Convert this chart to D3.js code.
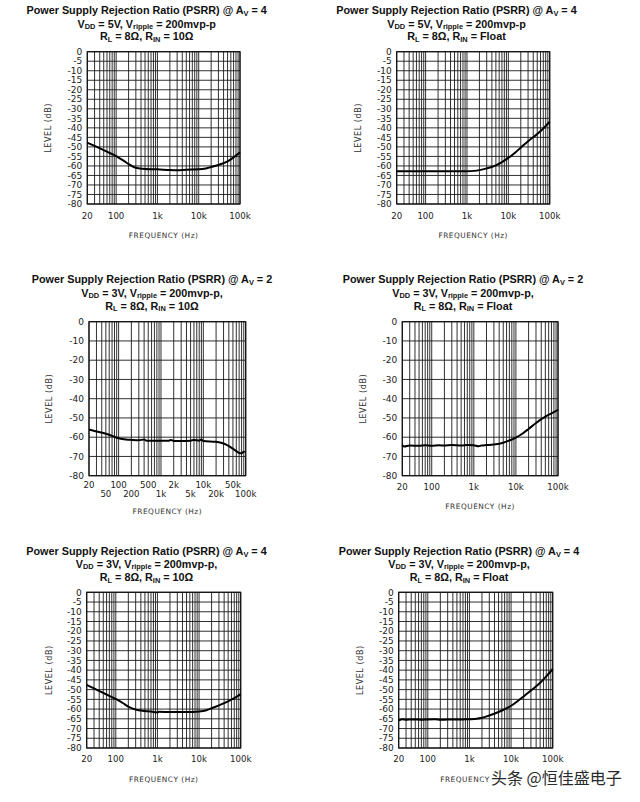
<!DOCTYPE html>
<html><head><meta charset="utf-8">
<script src="https://cdn.jsdelivr.net/npm/d3@7"></script>
<style>html,body{margin:0;padding:0;background:#fff;}svg{display:block;}</style>
</head><body>
<svg id="chart" width="640" height="802"></svg>
<script>
// ---------- DATA ----------
const p1Freq  = [20,30,50,70,100,150,200,300,500,1000,2000,3000,5000,10000,15000,20000,30000,50000,70000,100000];
const p1Level = [-47.8,-49.5,-51.7,-53.2,-54.8,-57.2,-59,-61,-61.6,-61.8,-62.2,-62.3,-62,-61.8,-61.3,-60.6,-59.5,-57.6,-55.5,-52.8];

const p2Freq  = [20,50,100,200,500,1000,1500,2000,3000,5000,7000,10000,15000,20000,30000,50000,70000,100000];
const p2Level = [-62.8,-62.8,-62.8,-62.8,-62.8,-62.8,-62.6,-62.2,-61.3,-59.7,-58,-55.8,-52.8,-50.4,-47,-43.2,-40.3,-36.8];

const p3Freq  = [20,30,50,70,100,150,200,300,400,450,500,700,1000,1500,1700,2000,3000,5000,6000,8000,9000,10000,20000,30000,40000,50000,60000,70000,80000,90000,95000];
const p3Level = [-56,-57,-58.2,-59.3,-60.5,-61.2,-61.4,-61.6,-61.2,-61.8,-61.8,-61.8,-61.9,-61.9,-61.4,-62,-62,-61.8,-61.4,-61.8,-61.2,-62,-62.4,-63.3,-64.6,-66,-67.2,-68.2,-68.3,-67.6,-67.7];

const p4Freq  = [20,22,30,50,70,100,150,200,300,500,700,1000,1300,1500,2000,3000,5000,7000,10000,15000,20000,30000,50000,70000,100000];
const p4Level = [-64.2,-64.8,-64.3,-64.5,-64.2,-64.4,-64.2,-64.3,-64.1,-64.3,-64,-64.2,-64.7,-64.3,-64.1,-63.8,-62.9,-61.7,-60.2,-57.8,-55.7,-52.6,-49.3,-47.6,-45.8];

const p5Freq  = [20,30,50,70,100,150,200,300,500,700,1000,1100,2000,5000,10000,15000,20000,30000,50000,70000,100000];
const p5Level = [-47.6,-49.4,-51.7,-53.2,-54.8,-57,-58.7,-60.3,-61,-61.3,-61.7,-61.4,-61.5,-61.5,-61.2,-60.6,-59.6,-58.1,-56,-54.4,-52.3];

const p6Freq  = [20,25,30,40,50,70,100,150,200,300,500,700,1000,1500,2000,3000,5000,7000,10000,15000,20000,30000,50000,70000,100000];
const p6Level = [-65.8,-65.2,-65.5,-65.3,-65.3,-65.5,-65.3,-65.2,-65.5,-65.4,-65.4,-65.3,-65.2,-65,-64.5,-63.3,-61.5,-60.1,-58.3,-55.6,-53.5,-50.5,-46.5,-43.2,-39.5];

const yTicks5  = [0,-5,-10,-15,-20,-25,-30,-35,-40,-45,-50,-55,-60,-65,-70,-75,-80];
const yTicks10 = [0,-10,-20,-30,-40,-50,-60,-70,-80];
const xTickVals   = [20,100,1000,10000,100000];
const xTickLabels = ["20","100","1k","10k","100k"];
const xTickValsRow1   = [20,100,500,2000,10000,50000];
const xTickLabelsRow1 = ["20","100","500","2k","10k","50k"];
const xTickValsRow2   = [50,200,1000,5000,20000,100000];
const xTickLabelsRow2 = ["50","200","1k","5k","20k","100k"];

const titleLine1Av4 = [["Power Supply Rejection Ratio (PSRR) @ A",0],["V",1],[" = 4",0]];
const titleLine1Av2 = [["Power Supply Rejection Ratio (PSRR) @ A",0],["V",1],[" = 2",0]];
const titleLine2V5  = [["V",0],["DD",1],[" = 5V, V",0],["ripple",1],[" = 200mvp-p",0]];
const titleLine2V3  = [["V",0],["DD",1],[" = 3V, V",0],["ripple",1],[" = 200mvp-p,",0]];
const titleLine3R10 = [["R",0],["L",1],[" = 8Ω, R",0],["IN",1],[" = 10Ω",0]];
const titleLine3Flt = [["R",0],["L",1],[" = 8Ω, R",0],["IN",1],[" = Float",0]];

const yAxisTitle = "LEVEL (dB)";
const xAxisTitle = "FREQUENCY (Hz)";
const watermark = "头条 @恒佳盛电子";

// ---------- LAYOUT ----------
const panels = [
  {freq:p1Freq, level:p1Level, title:[titleLine1Av4,titleLine2V5,titleLine3R10], yt:yTicks5,
   x0:87.3, x1:240, y0:51.7, y1:204, tcx:146.7, tb:[14,27.5,40], ylx:48.3, xlab:[[xTickVals,xTickLabels,218.5]], xty:237.5, xtitle:xAxisTitle},
  {freq:p2Freq, level:p2Level, title:[titleLine1Av4,titleLine2V5,titleLine3Flt], yt:yTicks5,
   x0:396.7, x1:549.7, y0:51.7, y1:204, tcx:456.5, tb:[14,27.5,40], ylx:358.3, xlab:[[xTickVals,xTickLabels,218.5]], xty:237.5, xtitle:xAxisTitle},
  {freq:p3Freq, level:p3Level, title:[titleLine1Av2,titleLine2V3,titleLine3R10], yt:yTicks10,
   x0:89, x1:245.7, y0:321.7, y1:475.7, tcx:152, tb:[283,296.5,309.5], ylx:49.3, xlab:[[xTickValsRow1,xTickLabelsRow1,487.8],[xTickValsRow2,xTickLabelsRow2,497.2]], xty:514, xtitle:xAxisTitle},
  {freq:p4Freq, level:p4Level, title:[titleLine1Av2,titleLine2V3,titleLine3Flt], yt:yTicks10,
   x0:402.3, x1:558, y0:321.7, y1:475.7, tcx:463, tb:[283,296.5,309.5], ylx:363.3, xlab:[[xTickVals,xTickLabels,490]], xty:509, xtitle:xAxisTitle},
  {freq:p5Freq, level:p5Level, title:[titleLine1Av4,titleLine2V3,titleLine3R10], yt:yTicks5,
   x0:86.7, x1:240.7, y0:592.3, y1:748, tcx:146.5, tb:[555,567.5,581], ylx:49.3, xlab:[[xTickVals,xTickLabels,762]], xty:782, xtitle:xAxisTitle},
  {freq:p6Freq, level:p6Level, title:[titleLine1Av4,titleLine2V3,titleLine3Flt], yt:yTicks5,
   x0:398.7, x1:552.7, y0:592.3, y1:748, tcx:459, tb:[555,567.5,581], ylx:360, xlab:[[xTickVals,xTickLabels,762]], xty:782, xtitle:"FREQUENCY", xtitleX:465}
];

const SUB_SIZE = 7.4, SUB_DY = 1.7;
const svg = d3.select("#chart");
svg.append("rect").attr("width",640).attr("height",802).attr("fill","#fff");

const gridFreqs = [];
[10,100,1000,10000].forEach(d => { for (let m=1;m<=9;m++){ const f=m*d; if (f>=20) gridFreqs.push(f);} });
gridFreqs.push(100000);

panels.forEach(p => {
  const g = svg.append("g");
  const x = d3.scaleLog().domain([20,100000]).range([p.x0,p.x1]);
  const y = d3.scaleLinear().domain([-80,0]).range([p.y1,p.y0]);

  // title
  p.title.forEach((line,i) => {
    const t = g.append("text").attr("x",p.tcx).attr("y",p.tb[i]).attr("text-anchor","middle")
      .attr("font-family","'Liberation Sans', Arial, sans-serif").attr("font-weight","bold")
      .attr("font-size",10.8).attr("fill","#111");
    let cur = 0;
    line.forEach(([s,sub]) => {
      const target = sub ? SUB_DY : 0;
      const ts = t.append("tspan").text(s).attr("dy", target - cur);
      if (sub) ts.attr("font-size",SUB_SIZE);
      cur = target;
    });
  });

  // grid
  g.append("g").selectAll("line").data(gridFreqs).join("line")
    .attr("x1",d=>x(d)).attr("x2",d=>x(d)).attr("y1",p.y0).attr("y2",p.y1)
    .attr("stroke","#1a1a1a").attr("stroke-width",0.9);
  g.append("g").selectAll("line").data(p.yt).join("line")
    .attr("x1",p.x0).attr("x2",p.x1).attr("y1",d=>y(d)).attr("y2",d=>y(d))
    .attr("stroke","#1a1a1a").attr("stroke-width",0.9);
  g.append("rect").attr("x",p.x0).attr("y",p.y0).attr("width",p.x1-p.x0).attr("height",p.y1-p.y0)
    .attr("fill","none").attr("stroke","#111").attr("stroke-width",1.2);

  // y axis labels
  g.append("g").selectAll("text").data(p.yt).join("text")
    .attr("x",p.x0-5).attr("y",d=>y(d)+3.2).attr("text-anchor","end")
    .attr("font-family","'DejaVu Sans', sans-serif").attr("font-size",9).attr("fill","#222")
    .text(d => d===0 ? "0" : "-"+Math.abs(d));

  // x axis labels
  p.xlab.forEach(([vals,labs,yy]) => {
    g.append("g").selectAll("text").data(vals).join("text")
      .attr("x",d=>x(d)).attr("y",yy).attr("text-anchor","middle")
      .attr("font-family","'DejaVu Sans', sans-serif").attr("font-size",8.6).attr("fill","#222")
      .text((d,i)=>labs[i]);
  });

  // axis titles
  g.append("text").attr("transform",`translate(${p.ylx},${(p.y0+p.y1)/2}) rotate(-90)`)
    .attr("text-anchor","middle").attr("dy","0.35em")
    .attr("font-family","'DejaVu Sans', sans-serif").attr("font-size",8).attr("letter-spacing",0.6).attr("fill","#333")
    .text(yAxisTitle);
  g.append("text").attr("x",p.xtitleX || (p.x0+p.x1)/2).attr("y",p.xty).attr("text-anchor","middle")
    .attr("font-family","'DejaVu Sans', sans-serif").attr("font-size",7.4).attr("letter-spacing",0.5).attr("fill","#333")
    .text(p.xtitle);

  // curve
  const pts = p.freq.map((f,i)=>[f,p.level[i]]);
  g.append("path").datum(pts)
    .attr("d", d3.line().x(d=>x(d[0])).y(d=>y(d[1])).curve(d3.curveMonotoneX))
    .attr("fill","none").attr("stroke","#000").attr("stroke-width",2).attr("stroke-linejoin","round");
});

// watermark
svg.append("text").attr("x",491).attr("y",784)
  .attr("font-family","'Noto Sans CJK SC', sans-serif").attr("font-size",16)
  .attr("fill","#2a2a2a").attr("stroke","#fff").attr("stroke-width",2.5).attr("paint-order","stroke")
  .text(watermark);
</script>
</body></html>
